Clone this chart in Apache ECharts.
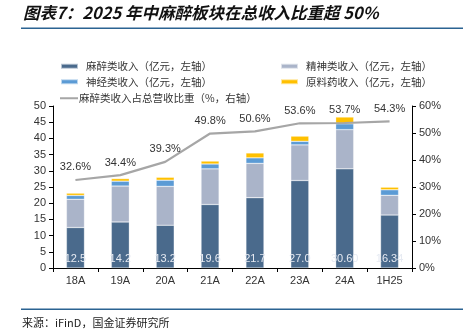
<!DOCTYPE html>
<html><head><meta charset="utf-8">
<script src="https://cdn.jsdelivr.net/npm/echarts@6/dist/echarts.min.js"></script>
<style>html,body{margin:0;padding:0;background:#fff}#c{width:463px;height:332px}</style>
</head><body><div id="c"></div>
<script>
const categories = ['18A','19A','20A','21A','22A','23A','24A','1H25'];
const anesthesia = [12.5,14.2,13.2,19.6,21.7,27.0,30.60,16.34];
const anesLabels = ['12.5','14.2','13.2','19.6','21.7','27.0','30.60','16.34'];
const psychiatric = [8.7,11.1,12.0,11.0,10.6,11.0,12.1,6.1];
const neuro = [1.2,1.5,1.9,1.5,1.7,1.1,1.8,1.7];
const rawMaterial = [0.7,0.8,0.9,0.9,1.5,1.6,2.1,0.8];
const anesShare = [32.6,34.4,39.3,49.8,50.6,53.6,53.7,54.3];
const leftTicks = {min:0,max:50,interval:5};
const rightTicks = {min:0,max:60,interval:10};

const names = ['麻醉类收入（亿元，左轴）','精神类收入（亿元，左轴）','神经类收入（亿元，左轴）','原料药收入（亿元，左轴）','麻醉类收入占总营收比重（%，右轴）'];
const colors = ['#4a6a8c','#aab4c9','#5b9bd5','#ffc000','#a6a6a6'];
const cjk = '"Noto Sans CJK SC", sans-serif';
const num = '"Liberation Sans", Arial, sans-serif';
const legendText = {fontFamily: cjk, fontSize: 10.5, color: '#333', padding:[0,0,0,3]};

const chart = echarts.init(document.getElementById('c'), null, {renderer:'canvas'});
const barSeries = (i, data, extra) => Object.assign({
  name: names[i], type: 'bar', stack: 'rev', data: data, barWidth: 18,
  itemStyle: {color: colors[i], borderColor: 'rgba(255,255,255,0.6)', borderWidth: 0.5}
}, extra || {});

chart.setOption({
  animation: false,
  graphic: [
    {type:'text', left: 23, top: 4, style:{text:'图表7：2025 年中麻醉板块在总收入比重超 50%', font:'italic bold 16.5px "Noto Sans CJK SC"', fill:'#111'}},
    {type:'rect', shape:{x:21, y:27.5, width:442, height:1.5}, style:{fill:'#2b6392'}},
    {type:'rect', shape:{x:21, y:308.5, width:442, height:1.5}, style:{fill:'#2b6392'}},
    {type:'text', left: 22, top: 317, style:{text:'来源：iFinD，国金证券研究所', font:'11px "Noto Sans CJK SC"', fill:'#222'}}
  ],
  legend: [
    {left: 55, top: 56, orient:'vertical', itemGap: 5, itemWidth: 17, itemHeight: 5, icon:'rect', textStyle: legendText, data:[names[0], names[2]]},
    {left: 275, top: 56, orient:'vertical', itemGap: 5, itemWidth: 17, itemHeight: 5, icon:'rect', textStyle: legendText, data:[names[1], names[3]]},
    {left: 55, top: 88, itemWidth: 18, itemHeight: 2, icon:'rect', textStyle: Object.assign({}, legendText, {padding:[0,0,0,-4]}), data:[names[4]]}
  ],
  grid: {left: 53, right: 51, top: 106, bottom: 64},
  xAxis: {
    type:'category', data: categories,
    axisLine:{lineStyle:{color:'#000', width:1}},
    axisTick:{show:true, inside:false, length:4, lineStyle:{color:'#000'}},
    axisLabel:{fontFamily:num, fontSize:11, color:'#333', margin:7}
  },
  yAxis: [
    {type:'value', min:leftTicks.min, max:leftTicks.max, interval:leftTicks.interval, position:'left',
     axisLine:{show:true, lineStyle:{color:'#000'}}, axisTick:{show:true, length:4, lineStyle:{color:'#000'}},
     splitLine:{show:false}, axisLabel:{fontFamily:num, fontSize:11, color:'#333', margin:7}},
    {type:'value', min:rightTicks.min, max:rightTicks.max, interval:rightTicks.interval, position:'right',
     axisLine:{show:true, lineStyle:{color:'#000'}}, axisTick:{show:true, length:4, lineStyle:{color:'#000'}},
     splitLine:{show:false}, axisLabel:{fontFamily:num, fontSize:11, color:'#333', margin:7, formatter:'{value}%'}}
  ],
  series: [
    barSeries(0, anesthesia, {label:{show:true, position:'insideBottom', distance:4, color:'#e6eaf2', fontFamily:num, fontSize:11,
      formatter: p => anesLabels[p.dataIndex]}}),
    barSeries(1, psychiatric),
    barSeries(2, neuro),
    barSeries(3, rawMaterial),
    {name: names[4], type:'line', yAxisIndex:1, data: anesShare, smooth:false, symbol:'circle', symbolSize:0.1, showSymbol:true,
     lineStyle:{color:colors[4], width:2.2}, itemStyle:{color:colors[4]},
     label:{show:true, position:'top', distance:7, color:'#333', fontFamily:num, fontSize:11, formatter: p => p.value.toFixed(1)+'%'}}
  ]
});
</script></body></html>
